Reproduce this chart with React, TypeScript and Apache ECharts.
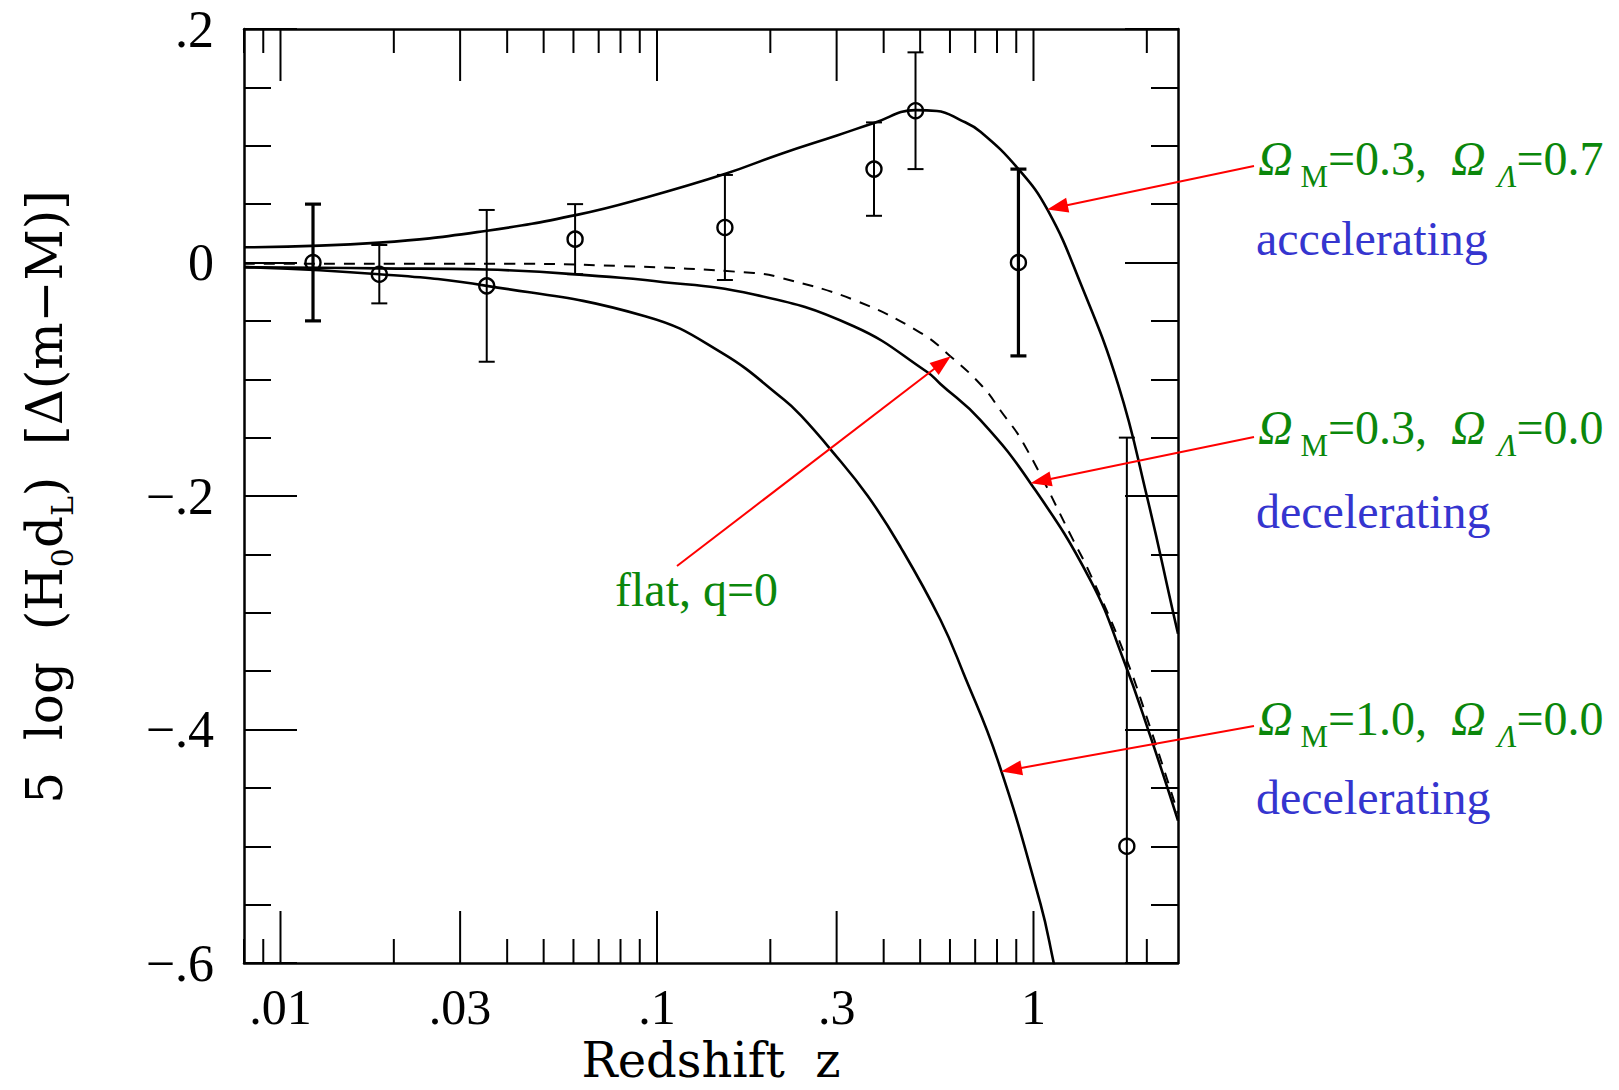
import { useEffect, useRef } from 'react';
import * as echarts from 'echarts';

// ---------- data ----------
// Model curves: redshift z and 5 log(H0 dL) residual
const accelZ = [0.008, 0.0183, 0.035, 0.0617, 0.093, 0.152, 0.213, 0.302, 0.377, 0.486, 0.554, 0.64, 0.723, 0.912, 1.09, 1.33, 1.68, 2.0, 2.35, 2.42];
const accelY = [0.013, 0.017, 0.027, 0.041, 0.0555, 0.076, 0.093, 0.109, 0.1195, 0.1305, 0.1298, 0.122, 0.112, 0.08, 0.045, -0.017, -0.105, -0.2, -0.3, -0.318];

const decel03Z = [0.008, 0.0183, 0.035, 0.08, 0.093, 0.181, 0.333, 0.523, 0.566, 0.723, 0.982, 1.416, 1.733, 2.04, 2.42];
const decel03Y = [-0.004, -0.005, -0.006, -0.013, -0.015, -0.0274, -0.0546, -0.094, -0.104, -0.135, -0.189, -0.272, -0.34, -0.405, -0.478];

const decel10Z = [0.008, 0.0183, 0.0353, 0.093, 0.148, 0.2176, 0.241, 0.289, 0.363, 0.444, 0.566, 0.652, 0.803, 1.043, 1.13, 1.2];
const decel10Y = [-0.004, -0.01, -0.02, -0.046, -0.077, -0.1175, -0.131, -0.16, -0.2, -0.244, -0.306, -0.352, -0.426, -0.549, -0.599, -0.64];

const flatZ = [0.008, 0.035, 0.08, 0.181, 0.213, 0.333, 0.5, 0.6, 0.731, 0.818, 0.941, 1.276, 1.42, 1.733, 2.04, 2.42];
const flatY = [-0.001, -0.001, -0.003, -0.009, -0.013, -0.032, -0.06, -0.08, -0.106, -0.127, -0.155, -0.238, -0.268, -0.333, -0.398, -0.472];

// Binned supernova points with error bars
const pointZ = [0.0122, 0.0183, 0.0353, 0.0606, 0.1515, 0.377, 0.486, 0.912, 1.77];
const pointY = [0.0, -0.01, -0.02, 0.02, 0.03, 0.08, 0.13, 0.0, -0.5];
const pointErr = [0.05, 0.025, 0.065, 0.03, 0.045, 0.04, 0.05, 0.08, 0.35];

// Axes
const xMin = 0.008;
const xMax = 2.42;
const yMin = -0.6;
const yMax = 0.2;
const yStep = 0.2;
const xTickValues = [0.008, 0.009, 0.01, 0.02, 0.03, 0.04, 0.05, 0.06, 0.07, 0.08, 0.09, 0.1, 0.2, 0.3, 0.4, 0.5, 0.6, 0.7, 0.8, 0.9, 1, 2];
const xLabelValues = [0.01, 0.03, 0.1, 0.3, 1];

// Annotation arrow targets (data coords on the curves)
const arrowTipZ = [1.087, 0.982, 0.82, 0.603];
const arrowTipY = [0.0455, -0.189, -0.436, -0.0803];

// ---------- styling ----------
const GREEN = '#0b870b';
const BLUE = '#3535cf';
const RED = '#ff0000';
const TICK_FONT = 'Liberation Serif';
const TITLE_FONT = 'DejaVu Serif';

const fmtX = (v: number) => String(v).replace(/^0\./, '.');
const fmtY = (v: number) => {
  const r = Math.round(v * 10) / 10;
  if (r === 0) return '0';
  const s = Math.abs(r).toString().replace(/^0/, '');
  return (r < 0 ? '\u2212' : '') + s;
};

const pair = (zs: number[], ys: number[]) => zs.map((z, i) => [z, ys[i]]);

function buildOption(): any {
  const axisLine = { show: true, onZero: false, lineStyle: { color: '#000', width: 2.5 } };
  const yAxisBase = {
    type: 'value',
    min: yMin,
    max: yMax,
    interval: yStep,
    axisLine,
    axisTick: { show: true, inside: true, length: 53, lineStyle: { color: '#000', width: 2 } },
    minorTick: { show: true, splitNumber: 4, length: 27, lineStyle: { color: '#000', width: 2 } },
    splitLine: { show: false },
    minorSplitLine: { show: false },
  };
  const xAxisBase = {
    type: 'log',
    logBase: 10,
    min: xMin,
    max: xMax,
    axisLine,
    axisTick: { show: false },
    axisLabel: { show: false },
    splitLine: { show: false },
    minorTick: { show: false },
  };
  const curve = (name: string, zs: number[], ys: number[], dashed = false) => ({
    type: 'line',
    name,
    data: pair(zs, ys),
    xAxisIndex: 0,
    yAxisIndex: 0,
    showSymbol: false,
    symbol: 'none',
    smooth: 0.45,
    clip: true,
    silent: true,
    lineStyle: { color: '#000', width: dashed ? 2 : 2.6, type: dashed ? [11, 9] : 'solid' },
    z: 3,
  });

  return {
    animation: false,
    backgroundColor: '#ffffff',
    grid: { left: 244, top: 29, width: 934, height: 934, containLabel: false },
    xAxis: [
      { ...xAxisBase, position: 'bottom' },
      { ...xAxisBase, position: 'top' },
    ],
    yAxis: [
      {
        ...yAxisBase,
        position: 'left',
        axisLabel: { show: true, margin: 30, formatter: fmtY, color: '#000', fontFamily: TICK_FONT, fontSize: 52 },
      },
      { ...yAxisBase, position: 'right', axisLabel: { show: false } },
    ],
    series: [
      curve('ΩM=0.3, ΩΛ=0.7', accelZ, accelY),
      curve('ΩM=0.3, ΩΛ=0.0', decel03Z, decel03Y),
      curve('ΩM=1.0, ΩΛ=0.0', decel10Z, decel10Y),
      curve('flat, q=0', flatZ, flatY, true),
      {
        type: 'custom',
        name: 'data',
        coordinateSystem: 'cartesian2d',
        xAxisIndex: 0,
        yAxisIndex: 0,
        clip: true,
        silent: true,
        z: 4,
        encode: { x: 0, y: [1, 2, 3] },
        data: pointZ.map((z, i) => [z, pointY[i], pointY[i] - pointErr[i], pointY[i] + pointErr[i]]),
        renderItem: (params: any, api: any) => {
          const z = api.value(0);
          const c = api.coord([z, api.value(1)]);
          const lo = api.coord([z, api.value(2)]);
          const hi = api.coord([z, api.value(3)]);
          const heavy = params.dataIndex === 0 || params.dataIndex === 7;
          const lw = heavy ? 3.2 : 2;
          const cap = 8;
          const st = { stroke: '#000', lineWidth: lw, fill: 'none' };
          return {
            type: 'group',
            children: [
              { type: 'line', shape: { x1: c[0], y1: lo[1], x2: c[0], y2: hi[1] }, style: st },
              { type: 'line', shape: { x1: c[0] - cap, y1: lo[1], x2: c[0] + cap, y2: lo[1] }, style: st },
              { type: 'line', shape: { x1: c[0] - cap, y1: hi[1], x2: c[0] + cap, y2: hi[1] }, style: st },
              { type: 'circle', shape: { cx: c[0], cy: c[1], r: 7.5 }, style: { stroke: '#000', lineWidth: 2.4, fill: 'none' } },
            ],
          };
        },
      },
      {
        type: 'custom',
        name: 'xticks',
        coordinateSystem: 'cartesian2d',
        xAxisIndex: 0,
        yAxisIndex: 0,
        clip: false,
        silent: true,
        z: 6,
        data: xTickValues.map((v) => [v, yMin]),
        renderItem: (_params: any, api: any) => {
          const v = api.value(0);
          const b = api.coord([v, yMin]);
          const t = api.coord([v, yMax]);
          const major = xLabelValues.indexOf(v) >= 0;
          const len = major ? 52 : 24;
          const st = { stroke: '#000', lineWidth: 2 };
          const children: any[] = [
            { type: 'line', shape: { x1: b[0], y1: b[1], x2: b[0], y2: b[1] - len }, style: st },
            { type: 'line', shape: { x1: t[0], y1: t[1], x2: t[0], y2: t[1] + len }, style: st },
          ];
          if (major) {
            children.push({
              type: 'text',
              x: b[0],
              y: b[1] + 44,
              style: {
                text: fmtX(v),
                fill: '#000',
                fontFamily: TICK_FONT,
                fontSize: 50,
                lineHeight: 38,
                align: 'center',
                verticalAlign: 'middle',
              },
            });
          }
          return { type: 'group', children };
        },
      },
    ],
  };
}

function arrow(sx: number, sy: number, tx: number, ty: number): any[] {
  const dx = tx - sx;
  const dy = ty - sy;
  const L = Math.hypot(dx, dy);
  const ux = dx / L;
  const uy = dy / L;
  const hl = 21;
  const hw = 7.5;
  const bx = tx - ux * hl;
  const by = ty - uy * hl;
  return [
    { type: 'line', z: 100, shape: { x1: sx, y1: sy, x2: bx + ux * 2, y2: by + uy * 2 }, style: { stroke: RED, lineWidth: 2 } },
    {
      type: 'polygon',
      z: 100,
      shape: { points: [[tx, ty], [bx - uy * hw, by + ux * hw], [bx + uy * hw, by - ux * hw]] },
      style: { fill: RED },
    },
  ];
}

function omegaLabel(x: number, y: number, m: string, l: string): any {
  const base = { fontFamily: TICK_FONT, fill: GREEN };
  return {
    type: 'text',
    z: 100,
    x,
    y,
    style: {
      text: `{o|Ω}{s| M}{n|=${m},  }{o|Ω}{n| }{si|Λ}{n|=${l}}`,
      align: 'left',
      verticalAlign: 'middle',
      rich: {
        o: { ...base, fontSize: 48, fontStyle: 'italic', lineHeight: 67, verticalAlign: 'middle' },
        n: { ...base, fontSize: 48, lineHeight: 67, verticalAlign: 'middle' },
        s: { ...base, fontSize: 31, lineHeight: 31, verticalAlign: 'bottom' },
        si: { ...base, fontSize: 31, fontStyle: 'italic', lineHeight: 31, verticalAlign: 'bottom' },
      },
    },
  };
}

function plainText(x: number, y: number, text: string, color: string): any {
  return {
    type: 'text',
    z: 100,
    x,
    y,
    style: { text, fill: color, fontFamily: TICK_FONT, fontSize: 48, lineHeight: 50, align: 'left', verticalAlign: 'middle' },
  };
}

export default function App() {
  const ref = useRef<HTMLDivElement>(null);

  useEffect(() => {
    if (!ref.current) return;
    const chart = echarts.init(ref.current, null, { renderer: 'svg' });
    chart.setOption(buildOption());

    const px = (z: number, y: number) => chart.convertToPixel({ seriesIndex: 0 }, [z, y]) as number[];
    const tips = arrowTipZ.map((z, i) => px(z, arrowTipY[i]));
    const starts = [
      [1254, 166],
      [1254, 437],
      [1254, 726],
      [677, 566],
    ];

    const graphics: any[] = [
      // y-axis title
      {
        type: 'text',
        z: 100,
        x: 45,
        y: 497,
        rotation: Math.PI / 2,
        style: {
          text: '{m|5  log  (H}{s|0}{m|d}{s|L}{m|)  [Δ(m\u2212M)]}',
          align: 'center',
          verticalAlign: 'middle',
          rich: {
            m: { fontFamily: TITLE_FONT, fontSize: 50, fill: '#000', lineHeight: 64, verticalAlign: 'middle' },
            s: { fontFamily: TITLE_FONT, fontSize: 30, fill: '#000', lineHeight: 30, verticalAlign: 'bottom' },
          },
        },
      },
      // x-axis title
      {
        type: 'text',
        z: 100,
        x: 711,
        y: 1060,
        style: {
          text: 'Redshift  z',
          fill: '#000',
          fontFamily: TITLE_FONT,
          fontSize: 48,
          lineHeight: 40,
          align: 'center',
          verticalAlign: 'middle',
        },
      },
      omegaLabel(1258, 158, '0.3', '0.7'),
      plainText(1256, 238, 'accelerating', BLUE),
      omegaLabel(1258, 427, '0.3', '0.0'),
      plainText(1256, 511, 'decelerating', BLUE),
      omegaLabel(1258, 718, '1.0', '0.0'),
      plainText(1256, 797, 'decelerating', BLUE),
      plainText(615, 589, 'flat, q=0', GREEN),
    ];
    tips.forEach((t, i) => {
      graphics.push(...arrow(starts[i][0], starts[i][1], t[0], t[1]));
    });
    chart.setOption({ graphic: graphics });

    return () => chart.dispose();
  }, []);

  return (
    <div
      ref={ref}
      style={{ position: 'absolute', left: 0, top: 0, width: 1619, height: 1090, background: '#fff' }}
    />
  );
}
